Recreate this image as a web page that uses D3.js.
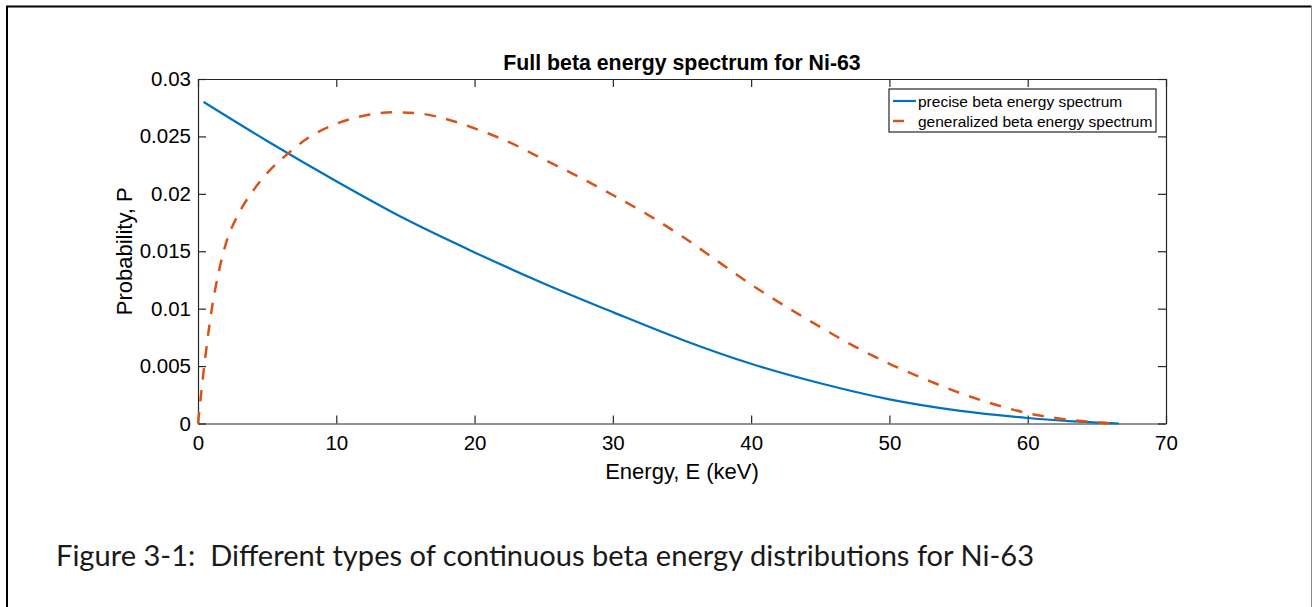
<!DOCTYPE html>
<html>
<head>
<meta charset="utf-8">
<script src="https://cdn.jsdelivr.net/npm/d3@7"></script>
<style>
  body { margin: 0; background: #fff; }
  svg { display: block; }
  .ax text { font-family: "Liberation Sans", Arial, Helvetica, sans-serif; }
</style>
</head>
<body>
<div id="chart"></div>
<script>
// energy (keV) and probability for the two spectra
let preciseE = [0.4, 5, 10, 15, 20, 25, 30, 35, 40, 45, 50, 55, 60, 63, 66.6];
let preciseP = [0.0280, 0.0246, 0.0211, 0.0178, 0.0149, 0.0122, 0.0097, 0.0073, 0.0052, 0.0035, 0.0021, 0.00112, 0.00048, 0.0002, 0];
let generalE = [0, 0.5, 1, 1.5, 2, 3, 4, 5, 6.5, 8, 10, 12, 14.3, 16, 18, 20, 22.5, 25, 27.5, 30, 32.5, 35, 37.5, 40, 42.5, 45, 47.5, 50, 52.5, 55, 57.5, 60, 62.5, 65, 66.4];
let generalP = [0, 0.0055, 0.0100, 0.0132, 0.0156, 0.0184, 0.0203, 0.0218, 0.0235, 0.0249, 0.0261, 0.0268, 0.0271, 0.0270, 0.0265, 0.0257, 0.0245, 0.0230, 0.0215, 0.0199, 0.0182, 0.0163, 0.0142, 0.0121, 0.0102, 0.0084, 0.0067, 0.0052, 0.0039, 0.0027, 0.0017, 0.0009, 0.0004, 0.0001, 0];

let xTicks = [0, 10, 20, 30, 40, 50, 60, 70];
let yTicks = [0, 0.005, 0.01, 0.015, 0.02, 0.025, 0.03];
let yTickLabels = ["0", "0.005", "0.01", "0.015", "0.02", "0.025", "0.03"];
let seriesNames = ["precise beta energy spectrum", "generalized beta energy spectrum"];
let seriesColors = ["#0072BD", "#D95319"];

let W = 1312, H = 607;
let box = { left: 198, right: 1166, top: 79, bottom: 423.5 };
let axisColor = "#262626";
let font = '"Liberation Sans", Arial, Helvetica, sans-serif';

let svg = d3.select("#chart").append("svg")
    .attr("width", W)
    .attr("height", H);

// page frame around the figure
svg.append("line").attr("x1", 7).attr("y1", 6).attr("x2", 7).attr("y2", H)
    .attr("stroke", "#000").attr("stroke-width", 2);
svg.append("line").attr("x1", 6).attr("y1", 6.5).attr("x2", 1311.5).attr("y2", 6.5)
    .attr("stroke", "#000").attr("stroke-width", 2);
svg.append("line").attr("x1", 1311.5).attr("y1", 6).attr("x2", 1311.5).attr("y2", H)
    .attr("stroke", "#888").attr("stroke-width", 1);

let x = d3.scaleLinear().domain([0, 70]).range([box.left, box.right]);
let y = d3.scaleLinear().domain([0, 0.03]).range([box.bottom, box.top]);

let tickLen = 8;

let gx = svg.append("g").attr("class", "ax")
    .attr("transform", "translate(0," + box.bottom + ")")
    .call(d3.axisBottom(x).tickValues(xTicks).tickSizeInner(-tickLen).tickSizeOuter(0).tickPadding(12));
let gxTop = svg.append("g").attr("class", "ax")
    .attr("transform", "translate(0," + box.top + ")")
    .call(d3.axisTop(x).tickValues(xTicks).tickSizeInner(-tickLen).tickSizeOuter(0).tickFormat(""));
let gy = svg.append("g").attr("class", "ax")
    .attr("transform", "translate(" + box.left + ",0)")
    .call(d3.axisLeft(y).tickValues(yTicks).tickSizeInner(-tickLen).tickSizeOuter(0).tickPadding(7)
        .tickFormat((d, i) => yTickLabels[i]));
let gyRight = svg.append("g").attr("class", "ax")
    .attr("transform", "translate(" + box.right + ",0)")
    .call(d3.axisRight(y).tickValues(yTicks).tickSizeInner(-tickLen).tickSizeOuter(0).tickFormat(""));

svg.selectAll(".ax path, .ax line").attr("stroke", axisColor).attr("stroke-width", 1.2);
svg.selectAll(".ax text").attr("fill", "#000").style("font-size", "20.5px").attr("font-family", font);
gx.selectAll("text").attr("dy", "0.71em");

// series
let lineGen = d3.line()
    .x(d => x(d[0]))
    .y(d => y(d[1]))
    .curve(d3.curveMonotoneX);

let preciseData = preciseE.map((e, i) => [e, preciseP[i]]);
let generalData = generalE.map((e, i) => [e, generalP[i]]);

svg.append("path")
    .datum(preciseData)
    .attr("d", lineGen)
    .attr("fill", "none")
    .attr("stroke", seriesColors[0])
    .attr("stroke-width", 2.2);

svg.append("path")
    .datum(generalData)
    .attr("d", lineGen)
    .attr("fill", "none")
    .attr("stroke", seriesColors[1])
    .attr("stroke-width", 2.5)
    .attr("stroke-dasharray", "11.5,10.5");

// title and axis labels
svg.append("text")
    .attr("x", (box.left + box.right) / 2)
    .attr("y", 70)
    .attr("text-anchor", "middle")
    .attr("font-family", font)
    .attr("font-weight", "bold")
    .style("font-size", "21.3px")
    .text("Full beta energy spectrum for Ni-63");

svg.append("text")
    .attr("x", (box.left + box.right) / 2)
    .attr("y", 479)
    .attr("text-anchor", "middle")
    .attr("font-family", font)
    .style("font-size", "22px")
    .text("Energy, E (keV)");

svg.append("text")
    .attr("transform", "translate(132," + (box.top + box.bottom) / 2 + ") rotate(-90)")
    .attr("text-anchor", "middle")
    .attr("font-family", font)
    .style("font-size", "22px")
    .text("Probability, P");

// legend
let legend = svg.append("g").attr("transform", "translate(889,89)");
legend.append("rect")
    .attr("x", 0).attr("y", 0)
    .attr("width", 267).attr("height", 43)
    .attr("fill", "#fff")
    .attr("stroke", axisColor)
    .attr("stroke-width", 1.2);

seriesNames.forEach((name, i) => {
    let row = legend.append("g").attr("transform", "translate(0," + (12 + i * 20) + ")");
    row.append("line")
        .attr("x1", 4).attr("x2", 27)
        .attr("y1", 0).attr("y2", 0)
        .attr("stroke", seriesColors[i])
        .attr("stroke-width", i === 0 ? 2.2 : 2.5)
        .attr("stroke-dasharray", i === 0 ? null : "11,13");
    row.append("text")
        .attr("x", 29)
        .attr("y", 5.5)
        .attr("font-family", font)
        .style("font-size", "15.5px")
        .text(name);
});

// figure caption below the chart
svg.append("text")
    .attr("x", 56)
    .attr("y", 566)
    .attr("font-family", "Lato, 'Open Sans', sans-serif")
    .style("font-size", "28px")
    .style("white-space", "pre")
    .attr("textLength", 978)
    .attr("lengthAdjust", "spacingAndGlyphs")
    .attr("fill", "#1a1a1a")
    .text("Figure 3-1:  Different types of continuous beta energy distributions for Ni-63");
</script>
</body>
</html>
